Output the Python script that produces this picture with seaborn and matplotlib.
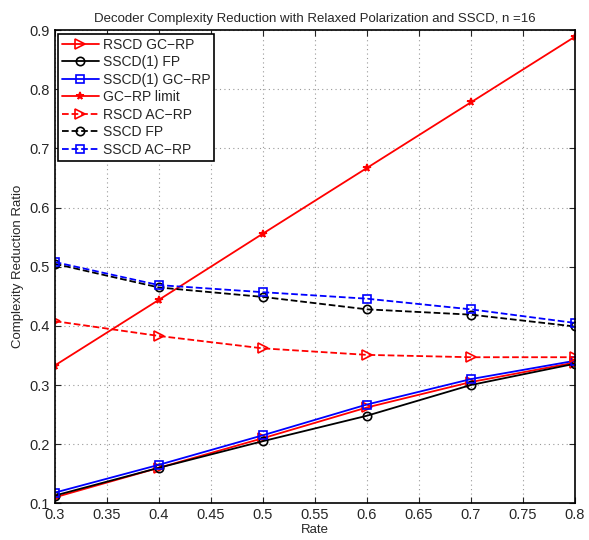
import numpy as np
import pandas as pd
import matplotlib
matplotlib.use("Agg")
import matplotlib.pyplot as plt
import seaborn as sns

rate = [0.3, 0.4, 0.5, 0.6, 0.7, 0.8]

rscd_gc_rp = [0.110, 0.160, 0.210, 0.262, 0.305, 0.338]
sscd1_fp = [0.113, 0.160, 0.205, 0.248, 0.300, 0.336]
sscd1_gc_rp = [0.118, 0.165, 0.215, 0.267, 0.310, 0.341]
gc_rp_limit = [0.333, 0.444, 0.556, 0.667, 0.778, 0.889]
rscd_ac_rp = [0.408, 0.383, 0.362, 0.351, 0.347, 0.347]
sscd_fp = [0.505, 0.465, 0.449, 0.428, 0.419, 0.399]
sscd_ac_rp = [0.508, 0.469, 0.457, 0.446, 0.428, 0.405]

series = [
    ("RSCD GC\u2212RP", rscd_gc_rp, "red", "-", ">"),
    ("SSCD(1) FP", sscd1_fp, "black", "-", "o"),
    ("SSCD(1) GC\u2212RP", sscd1_gc_rp, "blue", "-", "s"),
    ("GC\u2212RP limit", gc_rp_limit, "red", "-", "*"),
    ("RSCD AC\u2212RP", rscd_ac_rp, "red", "--", ">"),
    ("SSCD FP", sscd_fp, "black", "--", "o"),
    ("SSCD AC\u2212RP", sscd_ac_rp, "blue", "--", "s"),
]
sizes = {">": 7, "o": 6, "s": 5.5, "*": 5.5}

sns.set_style("ticks")
plt.rcParams["font.family"] = ["Liberation Sans", "DejaVu Sans"]

fig = plt.figure(figsize=(5.89, 5.40), dpi=100)
ax = fig.add_axes([0.093, 0.068, 0.883, 0.876])

for label, vals, color, ls, mk in series:
    df = pd.DataFrame({"Rate": rate, "Ratio": vals})
    filled = mk == "*"
    sns.lineplot(
        data=df, x="Rate", y="Ratio", ax=ax, color=color, linestyle=ls,
        linewidth=1.3, marker=mk, markersize=sizes[mk],
        markerfacecolor=color if filled else "none",
        markeredgecolor=color, markeredgewidth=1.2, label=label,
        dashes=False if ls == "-" else (4, 3),
    )

ax.set_xlim(0.3, 0.8)
ax.set_ylim(0.1, 0.9)
ax.set_xticks(np.arange(0.3, 0.801, 0.05))
ax.set_xticklabels(["0.3", "0.35", "0.4", "0.45", "0.5", "0.55", "0.6",
                    "0.65", "0.7", "0.75", "0.8"])
ax.set_yticks(np.arange(0.1, 0.901, 0.1))
ax.set_yticklabels(["0.1", "0.2", "0.3", "0.4", "0.5", "0.6", "0.7", "0.8", "0.9"])
ax.grid(True, linestyle=(0, (1, 3)), color="#999999", linewidth=0.8)
ax.tick_params(direction="in", labelsize=10.5, length=4, top=True, right=True)
for s in ax.spines.values():
    s.set_linewidth(1.2)
    s.set_color("black")

ax.set_xlabel("Rate", fontsize=9.5, labelpad=1)
ax.set_ylabel("Complexity Reduction Ratio", fontsize=9.5, labelpad=4)
ax.set_title("Decoder Complexity Reduction with Relaxed Polarization and SSCD, n =16",
             fontsize=9.5, pad=6)

leg = ax.legend(loc="upper left", fontsize=10, frameon=True, fancybox=False,
                edgecolor="black", borderaxespad=0.25, handlelength=2.6,
                labelspacing=0.25, borderpad=0.3, handletextpad=0.3,
                numpoints=1)
leg.get_frame().set_linewidth(1.2)
leg.get_frame().set_alpha(1)

fig.savefig("out.png", dpi=100)
